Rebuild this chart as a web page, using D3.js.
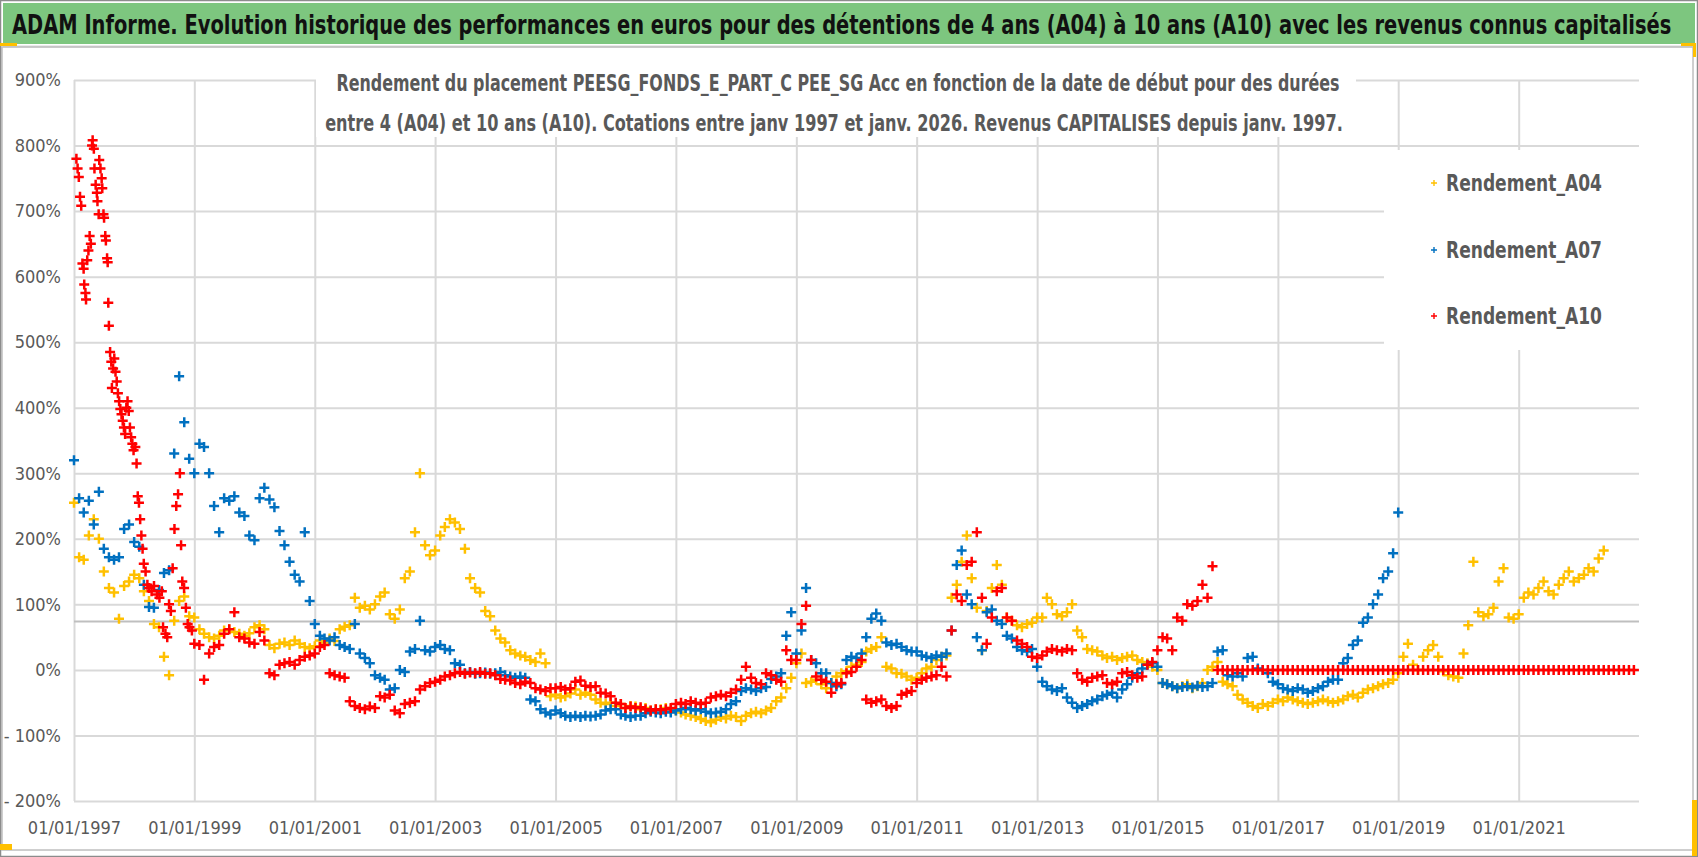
<!DOCTYPE html>
<html><head><meta charset="utf-8">
<script src="https://cdn.jsdelivr.net/npm/d3@7"></script>
<style>
html,body{margin:0;padding:0;background:#fff;overflow:hidden;}
svg{display:block;}
text{font-family:"Liberation Sans Narrow","Arial Narrow","DejaVu Sans Condensed",sans-serif;}
</style></head><body>
<svg id="c" width="1698" height="857"></svg>
<script>
// ---------------- DATA ----------------
const titleText = "ADAM Informe. Evolution historique des performances en euros pour des détentions de 4 ans (A04) à 10 ans (A10) avec les revenus connus capitalisés";
const subtitleLines = [
  "Rendement du placement PEESG_FONDS_E_PART_C PEE_SG Acc en fonction de la date de début pour des durées",
  "entre 4 (A04) et 10 ans (A10). Cotations entre janv 1997 et janv. 2026. Revenus CAPITALISES depuis janv. 1997."
];
const seriesNames = ["Rendement_A04", "Rendement_A07", "Rendement_A10"];
const seriesColors = ["#FFC000", "#0070C0", "#FF0000"];
const yTickValues = [-200, -100, 0, 100, 200, 300, 400, 500, 600, 700, 800, 900];
const xTickYears = [1997, 1999, 2001, 2003, 2005, 2007, 2009, 2011, 2013, 2015, 2017, 2019, 2021];
const referenceLevel = 74; // horizontal grey reference line (%)

// Monthly values (%) starting January 1997
const a04Monthly = [
  255, 172, 168, 205, 230, 200, 150, 125, 118, 78, 128, 135,   // 1997
  145, 140, 120, 105, 70, 65, 20, -8, 75, 105, 112, 82,        // 1998
  80, 62, 55, 50, 48, 52, 60, 62, 58, 55, 52, 56,              // 1999
  65, 68, 62, 38, 33, 40, 42, 38, 45, 40, 35, 33,              // 2000
  36, 45, 42, 48, 44, 62, 66, 68, 110, 95, 98, 92,             // 2001
  100, 112, 118, 85, 78, 92, 140, 150, 210, 300, 190, 175,     // 2002
  182, 205, 218, 230, 225, 215, 185, 140, 125, 118, 90, 82,    // 2003
  60, 48, 42, 30, 25, 22, 20, 15, 12, 25, 10, -40,             // 2004
  -38, -42, -40, -36, -30, -38, -35, -38, -45, -50, -52, -50,  // 2005
  -55, -52, -58, -55, -56, -60, -58, -62, -60, -60, -58, -60,  // 2006
  -62, -65, -68, -70, -72, -75, -78, -80, -76, -72, -74, -70,  // 2007
  -72, -78, -70, -66, -64, -66, -62, -58, -48, -42, -28, -12,  // 2008
  10, 25, -20, -18, -15, -22, -28, -20, -10, -5, -2, 5,        // 2009
  8, 12, 28, 32, 35, 50, 5, 2, -5, -6, -10, -15,               // 2010
  -12, -5, 2, 5, 15, 20, 22, 110, 130, 165, 205, 140,          // 2011
  95, 30, 90, 125, 160, 130, 80, 75, 68, 65, 70, 72,           // 2012
  80, 80, 110, 100, 85, 82, 88, 100, 60, 50, 32, 30,           // 2013
  28, 22, 18, 20, 15, 18, 20, 22, 15, 12, 10, 5,               // 2014
  0, -20, -22, -25, -28, -25, -22, -28, -25, -20, 0, 5,        // 2015
  12, -18, -22, -25, -38, -45, -50, -55, -58, -52, -55, -50,   // 2016
  -45, -48, -42, -45, -48, -50, -52, -50, -48, -45, -48, -50,  // 2017
  -48, -45, -40, -38, -42, -35, -30, -28, -25, -22, -20, -15,  // 2018
  -5, 20, 40, 8, 0, 20, 30, 38, 20, -2, -8, -10,               // 2019
  -12, 25, 68, 165, 88, 82, 85, 95, 135, 155, 80, 78,          // 2020
  85, 110, 118, 115, 125, 135, 120, 115, 130, 140, 150, 135,   // 2021
  140, 145, 155, 150, 170, 182                                 // 2022
];

const a07Monthly = [
  320, 262, 240, 258, 222, 272, 185, 172, 168, 172, 215, 222,  // 1997
  195, 188, 130, 96, 95, 122, 148, 152, 330, 448, 378, 322,    // 1998
  300, 345, 340, 300, 250, 210, 262, 258, 265, 240, 235, 205,  // 1999
  198, 262, 278, 260, 248, 212, 190, 165, 145, 135, 210, 105,  // 2000
  70, 52, 48, 45, 50, 38, 35, 32, 70, 25, 18, 10,              // 2001
  -8, -12, -15, -30, -28, 0, -3, 28, 32, 75, 30, 28,           // 2002
  35, 38, 32, 30, 10, 8, -5, -3, -6, -5, -4, -6,               // 2003
  -5, -3, -8, -10, -12, -10, -12, -45, -48, -60, -65, -68,     // 2004
  -62, -66, -70, -72, -70, -72, -70, -71, -70, -68, -62, -60,  // 2005
  -60, -68, -70, -72, -70, -70, -66, -64, -65, -66, -64, -65,  // 2006
  -62, -60, -58, -60, -62, -60, -64, -66, -65, -64, -60, -52,  // 2007
  -48, -32, -28, -30, -32, -28, -26, -14, -10, -5, 52, 88,     // 2008
  25, 60, 125, 15, 10, -5, -5, -20, -25, -22, 15, 20,          // 2009
  18, 25, 50, 78, 86, 75, 42, 38, 40, 35, 30, 28,              // 2010
  28, 22, 20, 18, 22, 20, 25, 60, 160, 182, 115, 100,          // 2011
  50, 30, 88, 92, 75, 70, 52, 48, 35, 30, 28, 32,              // 2012
  5, -18, -25, -30, -32, -28, -42, -50, -58, -55, -52, -48,    // 2013
  -45, -40, -38, -35, -42, -30, -22, -12, -5, 2, 8, 10,        // 2014
  5, -20, -22, -25, -28, -26, -25, -27, -24, -26, -25, -20,    // 2015
  28, 30, -8, -10, -5, -10, 18, 20, 2, 0, -5, -18,             // 2016
  -22, -28, -30, -32, -28, -30, -35, -32, -28, -25, -18, -15,  // 2017
  -15, 10, 18, 38, 45, 72, 80, 100, 115, 140, 150, 178,        // 2018
  240                                                          // 2019
];

// A10: dense readings for 1997-1998 as [decimal year, %]
const a10Early = [
  [1997.04,780],[1997.06,765],[1997.08,752],[1997.10,722],[1997.12,708],[1997.14,620],[1997.16,612],
  [1997.17,588],[1997.19,575],[1997.20,565],[1997.22,625],[1997.24,640],[1997.26,662],[1997.28,650],
  [1997.30,800],[1997.31,808],[1997.33,795],[1997.34,765],[1997.36,740],[1997.38,728],[1997.39,715],
  [1997.41,695],[1997.42,778],[1997.44,765],[1997.46,750],[1997.47,735],[1997.49,695],[1997.50,690],
  [1997.52,662],[1997.53,655],[1997.55,628],[1997.56,622],[1997.57,560],[1997.58,525],[1997.60,485],
  [1997.62,470],[1997.63,430],[1997.65,460],[1997.67,475],[1997.69,455],[1997.71,440],[1997.73,422],
  [1997.75,410],[1997.77,398],[1997.79,390],[1997.81,380],[1997.83,370],[1997.85,360],[1997.87,400],
  [1997.89,410],[1997.91,395],[1997.93,370],[1997.95,355],[1997.97,345],[1997.99,335],[1998.02,340],
  [1998.04,315],[1998.06,265],[1998.08,255],[1998.10,230],[1998.12,205],[1998.14,185],[1998.16,162],
  [1998.19,150],[1998.22,130],[1998.25,125],[1998.29,120],[1998.33,128],[1998.38,115],[1998.42,110],
  [1998.46,120],[1998.48,65],[1998.52,55],[1998.55,50],[1998.58,100],[1998.61,90],[1998.64,155],
  [1998.67,215],[1998.70,250],[1998.73,268],[1998.76,300],[1998.78,190],[1998.80,135],[1998.83,125],
  [1998.86,95],[1998.89,70],[1998.92,65],[1998.96,60]
];
// A10: monthly values (%) starting January 1999
const a10Monthly = [
  40, 38, -15, 25, 35, 38, 55, 62, 88, 50, 48, 42,             // 1999
  40, 58, 45, -5, -8, 8, 10, 12, 8, 15, 20, 22,                // 2000
  25, 35, 38, -5, -8, -10, -12, -48, -55, -58, -60, -56,       // 2001
  -58, -40, -42, -38, -62, -66, -52, -50, -48, -30, -25, -20,  // 2002
  -18, -15, -10, -8, -5, -3, -6, -4, -5, -3, -6, -5,           // 2003
  -8, -14, -15, -16, -20, -22, -18, -20, -28, -30, -32, -28,   // 2004
  -28, -26, -30, -28, -18, -16, -24, -26, -25, -35, -36, -40,  // 2005
  -50, -52, -58, -56, -58, -57, -60, -62, -60, -61, -60, -58,  // 2006
  -52, -50, -52, -48, -50, -52, -50, -42, -40, -38, -40, -35,  // 2007
  -30, -15, 5, -12, -20, -22, -5, -8, -15, -18, 30, 15,        // 2008
  15, 70, 98, 15, -10, -15, -18, -35, -22, -20, -5, -3,        // 2009
  5, 15, -45, -50, -48, -45, -55, -58, -55, -38, -35, -32,     // 2010
  -20, -15, -12, -10, -8, 5, -10, 60, 115, 105, 160, 165,      // 2011
  210, 110, 40, 80, 120, 125, 80, 75, 45, 40, 35, 20,          // 2012
  18, 22, 28, 32, 30, 28, 32, 30, -5, -15, -18, -12,           // 2013
  -10, -8, -20, -22, -18, -5, -3, -8, -12, -10, 8, 12,         // 2014
  30, 50, 48, 30, 80, 75, 100, 98, 105, 130, 110, 158,         // 2015
  0, 0, 0, 0, 0, 0, 0, 0, 0, 0, 0, 0,                          // 2016
  0, 0, 0, 0, 0, 0, 0, 0, 0, 0, 0, 0,                          // 2017
  0, 0, 0, 0, 0, 0, 0, 0, 0, 0, 0, 0,                          // 2018
  0, 0, 0, 0, 0, 0, 0, 0, 0, 0, 0, 0,                          // 2019
  0, 0, 0, 0, 0, 0, 0, 0, 0, 0, 0, 0,                          // 2020
  0, 0, 0, 0, 0, 0, 0, 0, 0, 0, 0, 0,                          // 2021
  0, 0, 0, 0, 0, 0, 0, 0, 0, 0, 0, 0                           // 2022
];

// ---------------- BUILD POINTS ----------------
function monthlyPoints(startYear, vals) {
  return vals.map((v, i) => ({ date: new Date(startYear, i, 1), value: v }));
}
function decYearDate(t) {
  const y = Math.floor(t);
  const start = new Date(y, 0, 1).getTime(), end = new Date(y + 1, 0, 1).getTime();
  return new Date(start + (t - y) * (end - start));
}
const series = [
  monthlyPoints(1997, a04Monthly),
  monthlyPoints(1997, a07Monthly),
  a10Early.map(([t, v]) => ({ date: decYearDate(t), value: v })).concat(monthlyPoints(1999, a10Monthly))
];

// ---------------- LAYOUT ----------------
const FONT = '"Liberation Sans Narrow","Arial Narrow","DejaVu Sans Condensed",sans-serif';
const svg = d3.select("#c");
const W = 1698, H = 857;
const plot = { left: 74, right: 1639, top: 80, bottom: 801 };

const x = d3.scaleTime().domain([new Date(1997, 0, 1), new Date(2023, 0, 1)]).range([plot.left, plot.right]);
const y = d3.scaleLinear().domain([-200, 900]).range([plot.bottom, plot.top]);

// place a text so that its rendered width equals targetWidth (horizontal scaling only)
function fittedText(parent, str, px, py, targetWidth, anchor, size, weight, fill) {
  const g = parent.append("g");
  const t = g.append("text").attr("x", 0).attr("y", 0).attr("text-anchor", anchor)
    .attr("font-size", size).attr("font-weight", weight).attr("fill", fill).text(str);
  const w = t.node().getComputedTextLength() || targetWidth;
  g.attr("transform", `translate(${px},${py}) scale(${targetWidth / w},1)`);
  return g;
}

// background & frames
svg.append("rect").attr("x", 0).attr("y", 0).attr("width", W).attr("height", H).attr("fill", "#fff");
svg.append("rect").attr("x", 3).attr("y", 3).attr("width", 1692).attr("height", 41).attr("fill", "#7DC67F");
svg.append("line").attr("x1", 3).attr("x2", 1693).attr("y1", 46.5).attr("y2", 46.5).attr("stroke", "#d9d9d9").attr("stroke-width", 2);
svg.append("rect").attr("x", 2).attr("y", 47).attr("width", 1691).attr("height", 803).attr("fill", "none").attr("stroke", "#bfbfbf").attr("stroke-width", 1.5);
svg.append("rect").attr("x", 0.5).attr("y", 0.5).attr("width", W - 1).attr("height", H - 1).attr("fill", "none").attr("stroke", "#8c8c8c").attr("stroke-width", 1.5);
// yellow selection handles
svg.append("rect").attr("x", 0).attr("y", 43).attr("width", 17).attr("height", 3).attr("fill", "#FFC000");
svg.append("rect").attr("x", 1681).attr("y", 43).attr("width", 15).attr("height", 3).attr("fill", "#FFC000");
svg.append("rect").attr("x", 1693).attr("y", 43).attr("width", 3).attr("height", 14).attr("fill", "#FFC000");
svg.append("rect").attr("x", 1692).attr("y", 800).attr("width", 5).attr("height", 56).attr("fill", "#FFC000");
svg.append("rect").attr("x", 0).attr("y", 844).attr("width", 12).attr("height", 6).attr("fill", "#FFC000");

// title
fittedText(svg, titleText, 12, 34, 1660, "start", 27, "bold", "#111");

// gridlines via axes
const gridY = svg.append("g").attr("transform", `translate(${plot.left},0)`)
  .call(d3.axisLeft(y).tickValues(yTickValues).tickSize(-(plot.right - plot.left)).tickFormat(""));
gridY.select(".domain").remove();
gridY.selectAll("line").attr("stroke", "#d9d9d9").attr("stroke-width", 2);

const gridX = svg.append("g").attr("transform", `translate(0,${plot.bottom})`)
  .call(d3.axisBottom(x).tickValues(xTickYears.map(yy => new Date(yy, 0, 1))).tickSize(-(plot.bottom - plot.top)).tickFormat(""));
gridX.select(".domain").remove();
gridX.selectAll("line").attr("stroke", "#d9d9d9").attr("stroke-width", 2);

// reference line
svg.append("line").attr("x1", plot.left).attr("x2", plot.right)
  .attr("y1", y(referenceLevel)).attr("y2", y(referenceLevel))
  .attr("stroke", "#bfbfbf").attr("stroke-width", 2);

// axis labels
const yAxis = svg.append("g").attr("transform", `translate(61,0)`)
  .call(d3.axisLeft(y).tickValues(yTickValues).tickSize(0).tickPadding(0)
    .tickFormat(v => v < 0 ? "- " + Math.abs(v) + "%" : v + "%"));
yAxis.select(".domain").remove();
yAxis.selectAll("text").attr("font-size", 18).attr("fill", "#595959").style("font-family", FONT);

const xAxis = svg.append("g").attr("transform", `translate(0,${plot.bottom})`)
  .call(d3.axisBottom(x).tickValues(xTickYears.map(yy => new Date(yy, 0, 1))).tickSize(0).tickPadding(20)
    .tickFormat(d3.timeFormat("%d/%m/%Y")));
xAxis.select(".domain").remove();
xAxis.selectAll("text").attr("font-size", 18).attr("fill", "#595959").style("font-family", FONT);

// subtitle white box
svg.append("rect").attr("x", 316).attr("y", 62).attr("width", 1040).attr("height", 75).attr("fill", "#fff");
const subY = [91, 131], subX = [838, 834], subLen = [1004, 1018];
subtitleLines.forEach((t, i) => {
  fittedText(svg, t, subX[i], subY[i], subLen[i], "middle", 23, "bold", "#595959");
});

// legend white box
svg.append("rect").attr("x", 1384).attr("y", 150).attr("width", 262).attr("height", 200).attr("fill", "#fff");

// data marks
const plus = "M-5,0H5M0,-5V5";
series.forEach((pts, si) => {
  svg.append("g").selectAll("path").data(pts).join("path")
    .attr("d", plus)
    .attr("transform", d => `translate(${x(d.date)},${y(d.value)})`)
    .attr("stroke", seriesColors[si]).attr("stroke-width", 2.5).attr("fill", "none");
});

// legend
const legY = [183, 250, 316];
seriesNames.forEach((n, i) => {
  svg.append("path").attr("d", "M-3,0H3M0,-3V3")
    .attr("transform", `translate(1434,${legY[i]})`)
    .attr("stroke", seriesColors[i]).attr("stroke-width", 1.4);
  fittedText(svg, n, 1446, legY[i] + 8, 156, "start", 23, "bold", "#595959");
});
</script>
</body></html>
